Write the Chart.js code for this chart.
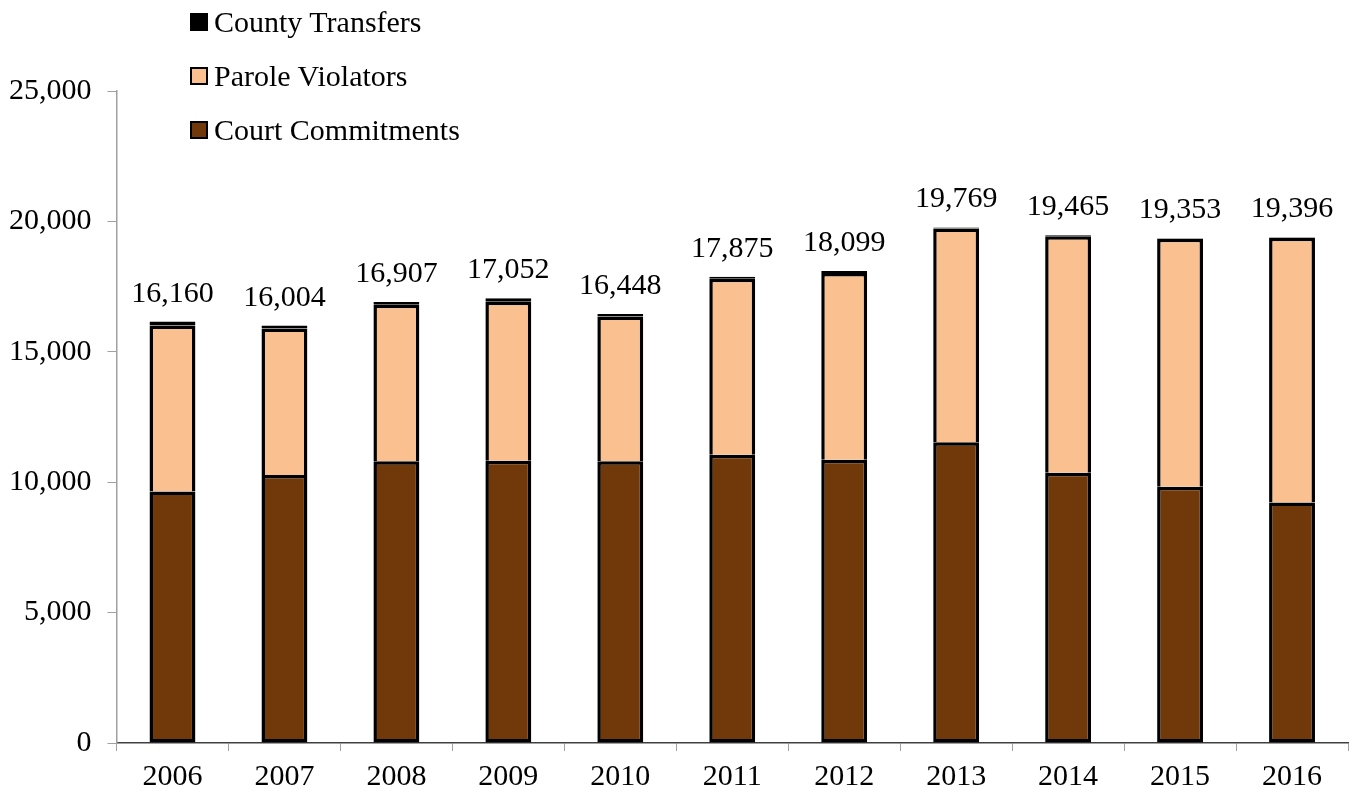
<!DOCTYPE html>
<html>
<head>
<meta charset="utf-8">
<script src="https://cdn.jsdelivr.net/npm/chart.js@4"></script>
<style>
    html, body { margin: 0; padding: 0; background: #fff; }
    #wrap { position: relative; width: 1352px; height: 791px; }
    #legend { position: absolute; left: 190px; top: -5px; font-family: "Liberation Serif", "Times New Roman", serif; font-size: 30px; color: #000; }
    #legend div { height: 54px; display: flex; align-items: center; }
    #legend span.box { display: inline-block; width: 14px; height: 14px; border: 2px solid #000; margin-right: 6px; }
</style>
</head>
<body>
<div id="wrap">
    <canvas id="inmateChart" width="1352" height="791"></canvas>
    <div id="legend"></div>
</div>
<script>
const years = ['2006', '2007', '2008', '2009', '2010', '2011', '2012', '2013', '2014', '2015', '2016'];
const courtCommitments = [9640, 10280, 10800, 10820, 10800, 11050, 10860, 11530, 10360, 9830, 9220];
const paroleViolators = [6370, 5614, 6007, 6102, 5558, 6755, 7159, 8199, 9075, 9503, 10156];
const countyTransfers = [150, 110, 100, 130, 90, 70, 80, 40, 30, 20, 20];
const totals = [16160, 16004, 16907, 17052, 16448, 17875, 18099, 19769, 19465, 19353, 19396];
const yTicks = [0, 5000, 10000, 15000, 20000, 25000];

const serif = '"Liberation Serif", "Times New Roman", serif';

// totals drawn above each stack
const totalLabels = {
    id: 'totalLabels',
    afterDatasetsDraw(chart) {
        const ctx = chart.ctx;
        const meta = chart.getDatasetMeta(chart.data.datasets.length - 1);
        ctx.save();
        ctx.font = '30px ' + serif;
        ctx.fillStyle = '#000';
        ctx.textAlign = 'center';
        ctx.textBaseline = 'alphabetic';
        meta.data.forEach((bar, i) => {
            ctx.fillText(totals[i].toLocaleString('en-US'), bar.x, bar.y - 20);
        });
        ctx.restore();
    }
};

const ctx = document.getElementById('inmateChart');

const inmateChart = new Chart(ctx, {
    type: 'bar',
    data: {
        labels: years,
        datasets: [{
            label: 'Court Commitments',
            data: courtCommitments,
            backgroundColor: '#713809',
            borderColor: '#000',
            borderWidth: 3.5,
            borderSkipped: false
        }, {
            label: 'Parole Violators',
            data: paroleViolators,
            backgroundColor: '#FAC090',
            borderColor: '#000',
            borderWidth: 3.5,
            borderSkipped: 'bottom'
        }, {
            label: 'County Transfers',
            data: countyTransfers,
            backgroundColor: '#000',
            borderColor: '#000',
            borderWidth: 3.5,
            borderSkipped: false
        }]
    },
    options: {
        responsive: false,
        animation: false,
        layout: {
            padding: { top: 91, left: -7, right: 4, bottom: -12 }
        },
        datasets: {
            bar: {
                categoryPercentage: 1,
                barPercentage: 0.41
            }
        },
        plugins: {
            legend: { display: false },
            tooltip: { enabled: false }
        },
        scales: {
            x: {
                stacked: true,
                grid: {
                    drawOnChartArea: false,
                    color: '#a0a0a0',
                    tickLength: 8
                },
                border: { color: '#404040', width: 1.5 },
                ticks: {
                    color: '#000',
                    padding: 14,
                    font: { family: serif, size: 30, lineHeight: 0.8 }
                }
            },
            y: {
                stacked: true,
                min: 0,
                max: 25000,
                afterBuildTicks(axis) {
                    axis.ticks = yTicks.map(v => ({ value: v }));
                },
                grid: {
                    drawOnChartArea: false,
                    color: '#a0a0a0',
                    tickLength: 9
                },
                border: { color: '#a0a0a0', width: 1.5 },
                ticks: {
                    color: '#000',
                    padding: 16,
                    font: { family: serif, size: 30 },
                    callback: v => v.toLocaleString('en-US')
                }
            }
        }
    },
    plugins: [totalLabels]
});

// legend, top entry first like the original
const legendEl = document.getElementById('legend');
inmateChart.data.datasets.slice().reverse().forEach(ds => {
    const row = document.createElement('div');
    row.innerHTML = '<span class="box" style="background:' + ds.backgroundColor + '"></span>' + ds.label;
    legendEl.appendChild(row);
});
</script>
</body>
</html>
